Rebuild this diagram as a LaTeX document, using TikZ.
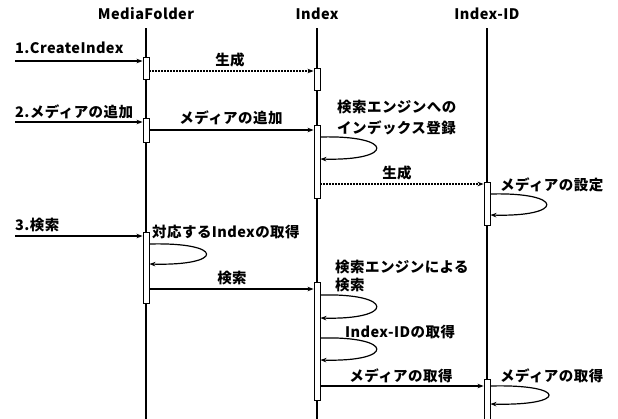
\documentclass[tikz,border=0pt]{standalone}
\usepackage{fontspec}
\setmainfont{Noto Sans CJK JP}[LetterSpace=3]
\usetikzlibrary{arrows.meta}
\begin{document}
\begin{tikzpicture}[x=1pt,y=-1pt,
  every node/.style={font=\fontsize{14.5}{16}\selectfont\bfseries, inner sep=0pt},
  head/.style={anchor=center},
  lbl/.style={anchor=west, align=left},
  clbl/.style={anchor=center},
  life/.style={line width=1.2pt},
  actbox/.style={draw, fill=white, line width=0.9pt, minimum width=6pt, inner sep=0pt},
  msg/.style={line width=1.2pt, -{Stealth[length=6pt,width=4.5pt]}},
  ret/.style={line width=1.2pt, dash pattern=on 1.6pt off 1.4pt, -{Stealth[length=6pt,width=4.5pt]}},
  selfloop/.style={line width=1.2pt, -{Stealth[length=6pt,width=4.5pt]}}
]
\useasboundingbox (0,0) rectangle (618,418);
% lifeline heads
\node[head] (hm) at (146,14) {MediaFolder};
\node[head] (hi) at (317,14) {Index};
\node[head] (hd) at (487,14) {Index-ID};
\coordinate (em) at (146,422);
\coordinate (ei) at (317,422);
\coordinate (ed) at (487,422);
\draw[life] (hm.south |- 0,28) -- (em);
\draw[life] (hi.south |- 0,28) -- (ei);
\draw[life] (hd.south |- 0,28) -- (ed);
% activation boxes
\node[actbox, minimum height=22pt] (m1) at (146,68) {};
\node[actbox, minimum height=22pt] (i1) at (317,79) {};
\node[actbox, minimum height=24pt] (m2) at (146,130) {};
\node[actbox, minimum height=73pt] (i2) at (317,161.5) {};
\node[actbox, minimum height=43pt] (d1) at (487,203.5) {};
\node[actbox, minimum height=71pt] (m3) at (146,267.5) {};
\node[actbox, minimum height=118pt] (i3) at (317,341) {};
\node[actbox, minimum height=44pt] (d2) at (487,401) {};
% external starts
\coordinate (s1) at (15,61);
\coordinate (s2) at (15,122);
\coordinate (s3) at (15,236);
% messages
\draw[msg] (s1) -- (s1 -| m1.west);
\node[lbl] (l1) at (15,48) {1.CreateIndex};
\draw[ret] (m1.east |- 0,71) -- (i1.west |- 0,71);
\node[clbl] (l2) at (230,60) {生成};
\draw[msg] (s2) -- (s2 -| m2.west);
\node[lbl] (l3) at (15,112) {2.メディアの追加};
\draw[msg] (m2.east |- 0,130) -- (i2.west |- 0,130);
\node[clbl] (l4) at (231,118) {メディアの追加};
\draw[selfloop] (i2.east |- 0,137) .. controls (395,135) and (395,161) .. (i2.east |- 0,159);
\node[lbl] (l5) at (337,107) {検索エンジンへの};
\node[lbl] (l5b) at (337,128) {インデックス登録};
\draw[ret] (i2.east |- 0,184) -- (d1.west |- 0,184);
\node[clbl] (l6) at (397,173) {生成};
\draw[selfloop] (d1.east |- 0,194) .. controls (565,192) and (565,217) .. (d1.east |- 0,215);
\node[lbl] (l7) at (500,185) {メディアの設定};
\draw[msg] (s3) -- (s3 -| m3.west);
\node[lbl] (l8) at (15,225) {3.検索};
\draw[selfloop] (m3.east |- 0,244) .. controls (225,242) and (225,266) .. (m3.east |- 0,264);
\node[lbl] (l9) at (152,232) {対応するIndexの取得};
\draw[msg] (m3.east |- 0,289) -- (i3.west |- 0,289);
\node[clbl] (l10) at (232,278) {検索};
\draw[selfloop] (i3.east |- 0,295) .. controls (395,293) and (395,320) .. (i3.east |- 0,318);
\node[lbl] (l11) at (335,267) {検索エンジンによる};
\node[lbl] (l11b) at (335,285) {検索};
\draw[selfloop] (i3.east |- 0,338) .. controls (395,336) and (395,362) .. (i3.east |- 0,360);
\node[lbl] (l12) at (345,332) {Index-IDの取得};
\draw[msg] (i3.east |- 0,386) -- (d2.west |- 0,386);
\node[clbl] (l13) at (401,376) {メディアの取得};
\draw[selfloop] (d2.east |- 0,386) .. controls (568,384) and (568,406) .. (d2.east |- 0,404);
\node[lbl] (l14) at (500,376) {メディアの取得};
\end{tikzpicture}
\end{document}
